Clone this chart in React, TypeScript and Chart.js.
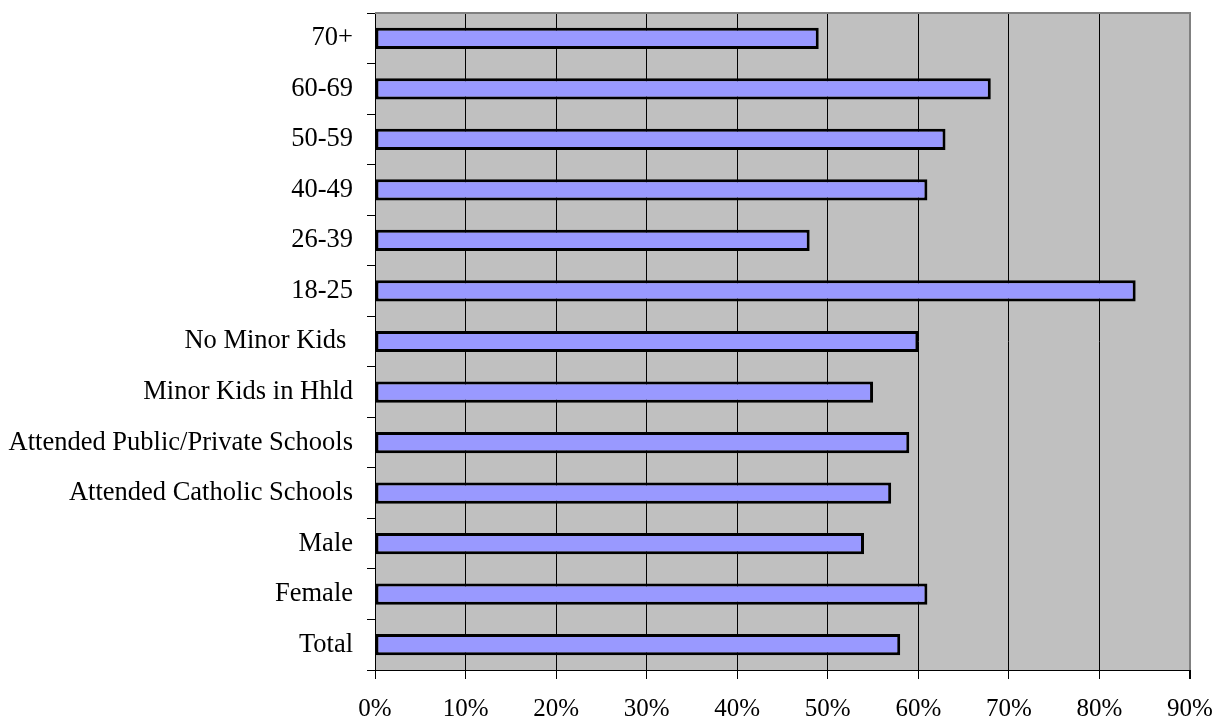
import React, { useEffect, useRef } from "react";
import { Chart, registerables } from "chart.js";

Chart.register(...registerables);

// Categories from top to bottom
const categories: string[] = [
  "70+",
  "60-69",
  "50-59",
  "40-49",
  "26-39",
  "18-25",
  "No Minor Kids ",
  "Minor Kids in Hhld",
  "Attended Public/Private Schools",
  "Attended Catholic Schools",
  "Male",
  "Female",
  "Total",
];

// Share of respondents, in percent
const shares: number[] = [49, 68, 63, 61, 48, 84, 60, 55, 59, 57, 54, 61, 58];

const axisMax = 90;
const axisStep = 10;

const SERIF = '"Liberation Serif", "Times New Roman", serif';
const PLOT_BG = "#C0C0C0";
const FRAME_GRAY = "#808080";

// Fills the plot area and draws its grey top/right frame
const plotFrame = {
  id: "plotFrame",
  beforeDraw(chart: Chart) {
    const { ctx, chartArea } = chart;
    if (!chartArea) return;
    ctx.save();
    ctx.fillStyle = PLOT_BG;
    ctx.fillRect(
      chartArea.left,
      chartArea.top,
      chartArea.right - chartArea.left,
      chartArea.bottom - chartArea.top
    );
    ctx.restore();
  },
  beforeDatasetsDraw(chart: Chart) {
    const { ctx, chartArea } = chart;
    if (!chartArea) return;
    ctx.save();
    ctx.strokeStyle = FRAME_GRAY;
    ctx.lineWidth = 2;
    ctx.beginPath();
    ctx.moveTo(chartArea.left, chartArea.top);
    ctx.lineTo(chartArea.right, chartArea.top);
    ctx.lineTo(chartArea.right, chartArea.bottom);
    ctx.stroke();
    ctx.restore();
  },
};

export default function App() {
  const canvasRef = useRef<HTMLCanvasElement | null>(null);

  useEffect(() => {
    const canvas = canvasRef.current;
    if (!canvas) return;
    const chart = new Chart(canvas, {
      type: "bar",
      data: {
        labels: categories,
        datasets: [
          {
            data: shares,
            backgroundColor: "#9999FF",
            borderColor: "#000000",
            borderWidth: 3,
            borderSkipped: false,
            barPercentage: 0.42,
            categoryPercentage: 1,
          },
        ],
      },
      options: {
        indexAxis: "y",
        responsive: false,
        animation: false,
        layout: { padding: { top: 13, right: 25, left: 0, bottom: 0 } },
        plugins: {
          legend: { display: false },
          tooltip: { enabled: false },
        },
        scales: {
          x: {
            type: "linear",
            min: 0,
            max: axisMax,
            afterFit(scale: any) {
              scale.height = 51;
              scale.paddingLeft = 0;
              scale.paddingRight = 0;
            },
            ticks: {
              stepSize: axisStep,
              color: "#000",
              padding: 15,
              font: { family: SERIF, size: 25 },
              callback: (v: any) => `${v}%`,
            },
            grid: {
              color: (c: any) => (c.index === axisMax / axisStep ? FRAME_GRAY : "#000"),
              lineWidth: (c: any) => (c.index === axisMax / axisStep ? 2 : 1),
              tickColor: "#000",
              tickLength: 9,
              drawTicks: true,
            },
            border: { color: "#000", width: 1 },
          },
          y: {
            type: "category",
            afterFit(scale: any) {
              scale.width = 375;
              scale.paddingTop = 0;
              scale.paddingBottom = 0;
            },
            ticks: {
              color: "#000",
              padding: 14,
              autoSkip: false,
              font: { family: SERIF, size: 26.5 },
            },
            grid: {
              offset: true,
              drawOnChartArea: false,
              drawTicks: true,
              tickLength: 8,
              color: "#000",
              tickColor: "#000",
            },
            border: { color: "#000", width: 1 },
          },
        },
      },
      plugins: [plotFrame],
    });
    return () => chart.destroy();
  }, []);

  return (
    <div style={{ position: "fixed", left: 0, top: 0, width: 1215, height: 721, background: "#fff" }}>
      <canvas ref={canvasRef} width={1215} height={721} style={{ display: "block" }} />
    </div>
  );
}
